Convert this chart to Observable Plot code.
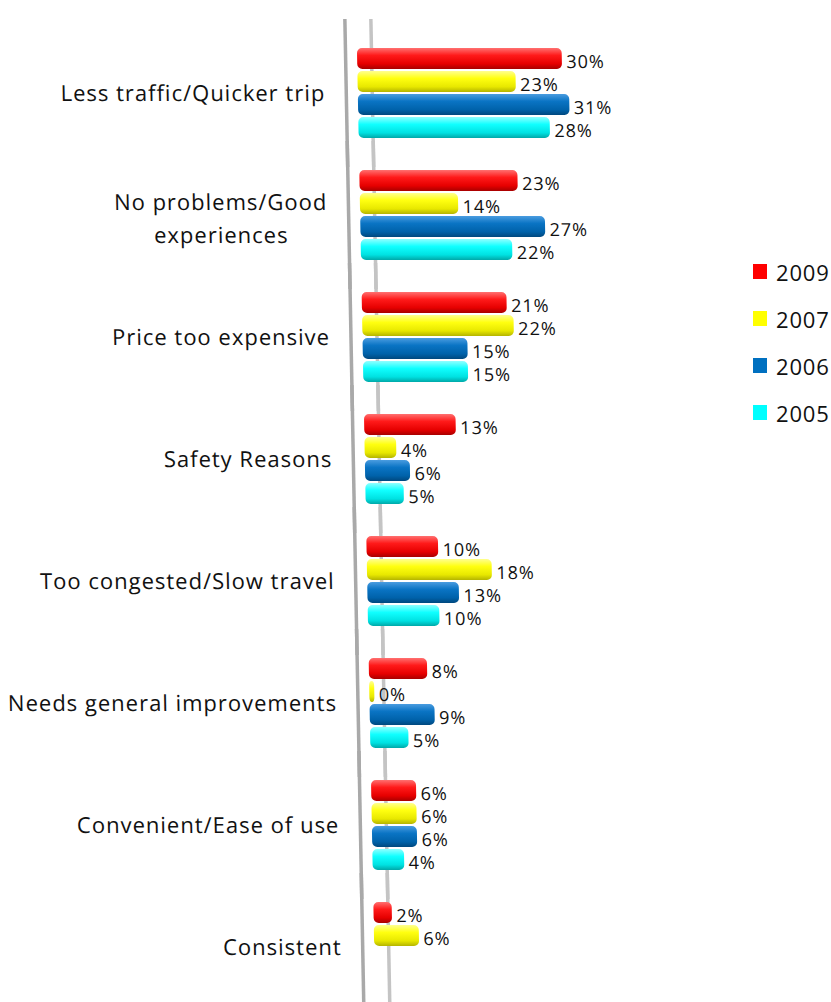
<!DOCTYPE html>
<html>
<head>
<meta charset="utf-8">
<script src="https://cdn.jsdelivr.net/npm/d3@7"></script>
<script src="https://cdn.jsdelivr.net/npm/@observablehq/plot@0.6"></script>
<style>
  html, body { margin: 0; padding: 0; background: #fff; }
  #wrap { position: relative; width: 831px; height: 1002px; overflow: hidden; font-family: "Open Sans", Lato, sans-serif; }
  #chart svg { transform: skewX(1.1deg); transform-origin: 0 0; overflow: visible; }
  #chart svg text { letter-spacing: 1px; }
  #legend { position: absolute; left: 753px; top: 248px; }
  .item { display: flex; align-items: center; height: 47px; font-size: 22px; color: #111; letter-spacing: 0.8px; }
  .sw { width: 14px; height: 15px; margin-right: 9px; }
</style>
</head>
<body>
<div id="wrap">
  <div id="chart"></div>
  <div id="legend"></div>
</div>
<script>
const categories = [
  "Less traffic/Quicker trip",
  "No problems/Good experiences",
  "Price too expensive",
  "Safety Reasons",
  "Too congested/Slow travel",
  "Needs general improvements",
  "Convenient/Ease of use",
  "Consistent"
];
const series = ["2009", "2007", "2006", "2005"];
const v2009 = [30, 23, 21, 13, 10, 8, 6, 2];
const v2007 = [23, 14, 22, 4, 18, 0, 6, 6];
const v2006 = [31, 27, 15, 6, 13, 9, 6, null];
const v2005 = [28, 22, 15, 5, 10, 5, 4, null];
const colors = ["#ff0000", "#ffff00", "#0070c0", "#00ffff"];

const valuesBySeries = {"2009": v2009, "2007": v2007, "2006": v2006, "2005": v2005};
const data = [];
categories.forEach((c, i) => {
  series.forEach(s => {
    const v = valuesBySeries[s][i];
    if (v != null) data.push({category: c, series: s, value: v});
  });
});

const grads = {
  "2009": ["#ff7070", "#ff1a1a", "#e60000", "#a80000"],
  "2007": ["#ffff90", "#ffff10", "#e8e800", "#b4b400"],
  "2006": ["#4a9ce0", "#0a74c4", "#0062aa", "#00487e"],
  "2005": ["#90ffff", "#10ffff", "#00e2e2", "#00a8a8"]
};

const LABEL_FONT = 22;
const LABEL_FAMILY = "'Open Sans', Lato, sans-serif";
const PAD = 33;
const wrapped = "No problems/Good experiences";
const wrappedText = "No problems/Good\nexperiences";
const ctx = document.createElement("canvas").getContext("2d");
ctx.font = `${LABEL_FONT}px ${LABEL_FAMILY}`;
if ("letterSpacing" in ctx) ctx.letterSpacing = "1px";
const wrappedWidth = Math.max(...wrappedText.split("\n").map(t => ctx.measureText(t).width));

const barMarks = series.map(s => Plot.barX(data.filter(d => d.series === s), {
  fy: "category", y: "series", x: "value",
  fill: `url(#g${s})`, rx: 5, insetRight: -5
}));

const chart = Plot.plot({
  width: 740,
  height: 1002,
  marginLeft: 356,
  marginRight: 171,
  marginTop: 40,
  marginBottom: 3,
  style: {fontFamily: LABEL_FAMILY, background: "transparent", overflow: "visible"},
  x: {domain: [0, 32], axis: null},
  y: {domain: series, padding: 0.1, axis: null},
  fy: {domain: categories, paddingInner: 0.2, paddingOuter: 0, label: null},
  marks: [
    Plot.ruleX([0], {stroke: "#c4c4c4", strokeWidth: 3.5, dx: 14, insetTop: -25, insetBottom: -25}),
    Plot.ruleX([0], {stroke: "#a9a9a9", strokeWidth: 3.5, dx: -12, insetTop: -25, insetBottom: -25}),
    ...barMarks,
    Plot.text(data, {
      fy: "category", y: "series", x: "value",
      text: d => d.value + "%", textAnchor: "start", dx: 9, dy: 3,
      fontSize: 18, fill: "#111"
    }),
    Plot.axisFy({
      anchor: "left", tickSize: 0, tickPadding: PAD, fontSize: LABEL_FONT, fill: "#111",
      label: null,
      ticks: categories.filter(c => c !== wrapped)
    }),
    Plot.text([wrapped], {
      fy: d => d, frameAnchor: "left", text: () => wrappedText,
      textAnchor: "middle", lineHeight: 1.5, dx: -(PAD + wrappedWidth / 2),
      fontSize: LABEL_FONT, fill: "#111"
    })
  ]
});

const defs = d3.select(chart).insert("defs", ":first-child");
series.forEach(s => {
  const g = defs.append("linearGradient").attr("id", "g" + s)
    .attr("x1", 0).attr("y1", 0).attr("x2", 0).attr("y2", 1);
  const st = grads[s];
  [[0, st[0]], [0.35, st[1]], [0.75, st[2]], [1, st[3]]].forEach(([o, c]) =>
    g.append("stop").attr("offset", o).attr("stop-color", c));
});

document.getElementById("chart").appendChild(chart);

const legend = d3.select("#legend");
series.forEach((s, i) => {
  const it = legend.append("div").attr("class", "item");
  it.append("div").attr("class", "sw").style("background", colors[i]);
  it.append("span").text(s);
});
</script>
</body>
</html>
